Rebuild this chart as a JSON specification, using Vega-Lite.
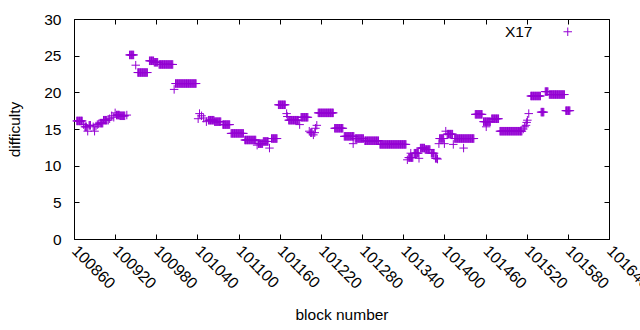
{
"$schema": "https://vega.github.io/schema/vega-lite/v6.json",
"width": 535, "height": 220,
"autosize": {"type": "none"},
"padding": {"left": 74, "top": 19, "right": 31, "bottom": 91},
"background": "white",
"config": {"view": {"stroke": "black", "strokeWidth": 1}, "font": "Liberation Sans",
  "axis": {"grid": false, "domain": false, "tickColor": "black", "tickSize": -5, "labelColor": "black", "labelFontSize": 15.5, "titleFontSize": 15.5, "titleFontWeight": "normal", "titleColor": "black", "labelOverlap": false, "labelFlush": false, "labelBound": false}},
"data": {"values": [
{"b":100864,"d":16.1},{"b":100865,"d":16.1},{"b":100866,"d":16.1},{"b":100867,"d":16.1},{"b":100868,"d":16.1},{"b":100869,"d":16.1},{"b":100870,"d":16.1},{"b":100871,"d":16.1},{"b":100872,"d":16.1},
{"b":100874,"d":15.6},{"b":100876,"d":15.3},{"b":100877,"d":15.3},{"b":100878,"d":15.3},{"b":100880,"d":14.7},{"b":100882,"d":15.5},{"b":100883,"d":15.5},{"b":100884,"d":15.5},{"b":100888,"d":15.3},{"b":100890,"d":14.7},{"b":100892,"d":15.4},{"b":100894,"d":15.6},{"b":100896,"d":15.7},
{"b":100898,"d":15.8},{"b":100899,"d":15.8},{"b":100900,"d":15.8},{"b":100901,"d":15.8},{"b":100902,"d":15.8},{"b":100903,"d":16.2},{"b":100904,"d":16.2},{"b":100905,"d":16.2},{"b":100906,"d":16.2},{"b":100907,"d":16.2},{"b":100908,"d":16.2},
{"b":100910,"d":16.2},{"b":100912,"d":16.4},{"b":100915,"d":16.8},{"b":100918,"d":16.6},{"b":100920,"d":17.2},
{"b":100922,"d":16.9},{"b":100923,"d":16.9},{"b":100924,"d":16.9},{"b":100925,"d":16.9},{"b":100926,"d":16.9},{"b":100927,"d":16.8},{"b":100928,"d":16.8},{"b":100929,"d":16.8},{"b":100930,"d":16.8},{"b":100931,"d":16.8},{"b":100932,"d":16.8},{"b":100933,"d":16.8},{"b":100934,"d":16.8},{"b":100937,"d":16.9},
{"b":100941,"d":25.1},{"b":100942,"d":25.1},{"b":100943,"d":25.1},{"b":100944,"d":25.1},{"b":100945,"d":25.1},{"b":100946,"d":25.1},{"b":100947,"d":25.1},
{"b":100950,"d":23.7},
{"b":100953,"d":22.7},{"b":100954,"d":22.7},{"b":100955,"d":22.7},{"b":100956,"d":22.7},{"b":100957,"d":22.7},{"b":100958,"d":22.7},{"b":100959,"d":22.7},{"b":100960,"d":22.7},{"b":100961,"d":22.7},{"b":100962,"d":22.7},{"b":100963,"d":22.7},{"b":100964,"d":22.7},{"b":100965,"d":22.7},{"b":100966,"d":22.7},{"b":100967,"d":22.7},
{"b":100970,"d":24.3},{"b":100971,"d":24.3},{"b":100972,"d":24.3},{"b":100973,"d":24.3},{"b":100974,"d":24.3},{"b":100975,"d":24.3},{"b":100976,"d":24.3},{"b":100977,"d":24.1},{"b":100978,"d":24.1},{"b":100979,"d":24.1},{"b":100980,"d":24.1},{"b":100981,"d":24.1},{"b":100982,"d":24.1},
{"b":100984,"d":23.8},{"b":100985,"d":23.8},{"b":100986,"d":23.8},{"b":100987,"d":23.8},{"b":100988,"d":23.8},{"b":100989,"d":23.8},{"b":100990,"d":23.8},{"b":100991,"d":23.8},{"b":100992,"d":23.8},{"b":100993,"d":23.8},{"b":100994,"d":23.8},{"b":100995,"d":23.8},{"b":100996,"d":23.8},{"b":100997,"d":23.8},{"b":100998,"d":23.8},{"b":100999,"d":23.8},{"b":101000,"d":23.8},{"b":101001,"d":23.8},{"b":101002,"d":23.8},{"b":101003,"d":23.8},{"b":101004,"d":23.8},
{"b":101006,"d":20.4},
{"b":101008,"d":21.2},{"b":101009,"d":21.2},{"b":101010,"d":21.2},{"b":101011,"d":21.2},{"b":101012,"d":21.2},{"b":101013,"d":21.2},{"b":101014,"d":21.2},{"b":101015,"d":21.2},{"b":101016,"d":21.2},{"b":101017,"d":21.2},{"b":101018,"d":21.2},{"b":101019,"d":21.2},{"b":101020,"d":21.2},{"b":101021,"d":21.2},{"b":101022,"d":21.2},{"b":101023,"d":21.2},{"b":101024,"d":21.2},{"b":101025,"d":21.2},{"b":101026,"d":21.2},{"b":101027,"d":21.2},{"b":101028,"d":21.2},{"b":101029,"d":21.2},{"b":101030,"d":21.2},{"b":101031,"d":21.2},{"b":101032,"d":21.2},{"b":101033,"d":21.2},{"b":101034,"d":21.2},{"b":101035,"d":21.2},{"b":101036,"d":21.2},{"b":101037,"d":21.2},{"b":101038,"d":21.2},
{"b":101041,"d":16.4},{"b":101043,"d":17.1},{"b":101046,"d":16.8},{"b":101049,"d":16.5},{"b":101053,"d":16.0},
{"b":101056,"d":16.2},{"b":101057,"d":16.2},{"b":101058,"d":16.2},{"b":101059,"d":16.2},{"b":101060,"d":16.2},{"b":101061,"d":16.2},{"b":101062,"d":16.2},{"b":101063,"d":16.2},{"b":101064,"d":16.2},{"b":101065,"d":16.0},{"b":101066,"d":16.0},{"b":101067,"d":16.0},{"b":101068,"d":16.0},{"b":101069,"d":16.0},{"b":101070,"d":16.0},{"b":101071,"d":16.0},{"b":101072,"d":16.0},{"b":101073,"d":16.0},{"b":101074,"d":16.0},
{"b":101077,"d":15.6},{"b":101078,"d":15.6},{"b":101079,"d":15.6},{"b":101080,"d":15.6},{"b":101081,"d":15.6},{"b":101082,"d":15.6},{"b":101083,"d":15.6},{"b":101084,"d":15.6},{"b":101085,"d":15.6},{"b":101086,"d":15.6},{"b":101087,"d":15.6},
{"b":101089,"d":14.4},{"b":101090,"d":14.4},{"b":101091,"d":14.4},{"b":101092,"d":14.4},{"b":101093,"d":14.4},{"b":101094,"d":14.4},{"b":101095,"d":14.4},{"b":101096,"d":14.4},{"b":101097,"d":14.4},{"b":101098,"d":14.4},{"b":101099,"d":14.4},{"b":101100,"d":14.4},{"b":101101,"d":14.4},{"b":101102,"d":14.4},{"b":101103,"d":14.4},{"b":101104,"d":14.4},{"b":101105,"d":14.4},{"b":101106,"d":14.4},{"b":101107,"d":14.4},
{"b":101109,"d":13.5},{"b":101110,"d":13.5},{"b":101111,"d":13.5},{"b":101112,"d":13.5},{"b":101113,"d":13.5},{"b":101114,"d":13.5},{"b":101115,"d":13.5},{"b":101116,"d":13.5},{"b":101117,"d":13.5},{"b":101118,"d":13.5},{"b":101119,"d":13.5},{"b":101120,"d":13.5},{"b":101121,"d":13.5},{"b":101122,"d":13.5},{"b":101123,"d":13.5},{"b":101124,"d":13.5},{"b":101125,"d":13.5},
{"b":101127,"d":12.8},
{"b":101129,"d":13.0},{"b":101130,"d":13.0},{"b":101131,"d":13.0},{"b":101132,"d":13.0},{"b":101133,"d":13.0},{"b":101134,"d":13.0},{"b":101135,"d":13.0},{"b":101136,"d":13.3},{"b":101137,"d":13.3},{"b":101138,"d":13.3},{"b":101139,"d":13.3},{"b":101140,"d":13.3},{"b":101141,"d":13.3},{"b":101142,"d":13.3},{"b":101143,"d":13.3},
{"b":101145,"d":12.4},
{"b":101148,"d":13.7},{"b":101149,"d":13.7},{"b":101150,"d":13.7},{"b":101151,"d":13.7},{"b":101152,"d":13.7},{"b":101153,"d":13.7},{"b":101154,"d":13.7},{"b":101155,"d":13.7},{"b":101156,"d":13.7},
{"b":101158,"d":18.3},{"b":101159,"d":18.3},{"b":101160,"d":18.3},{"b":101161,"d":18.3},{"b":101162,"d":18.3},{"b":101163,"d":18.3},{"b":101164,"d":18.3},{"b":101165,"d":18.3},{"b":101166,"d":18.3},{"b":101167,"d":18.3},{"b":101168,"d":18.3},
{"b":101170,"d":17.1},{"b":101171,"d":16.7},
{"b":101173,"d":16.2},{"b":101174,"d":16.2},{"b":101175,"d":16.2},{"b":101176,"d":16.2},{"b":101177,"d":16.2},{"b":101178,"d":16.2},{"b":101179,"d":16.2},{"b":101180,"d":16.2},{"b":101181,"d":16.2},{"b":101182,"d":16.2},{"b":101183,"d":16.2},{"b":101184,"d":16.2},{"b":101185,"d":16.2},{"b":101186,"d":16.2},{"b":101187,"d":16.2},
{"b":101189,"d":15.6},
{"b":101191,"d":16.6},{"b":101192,"d":16.6},{"b":101193,"d":16.6},{"b":101194,"d":16.6},{"b":101195,"d":16.6},{"b":101196,"d":16.6},{"b":101197,"d":16.6},{"b":101198,"d":16.6},{"b":101199,"d":16.6},{"b":101200,"d":16.6},{"b":101201,"d":16.6},
{"b":101203,"d":14.7},{"b":101205,"d":14.5},{"b":101206,"d":14.5},{"b":101207,"d":14.5},{"b":101209,"d":14.2},{"b":101211,"d":14.5},{"b":101212,"d":15.1},{"b":101214,"d":15.5},
{"b":101216,"d":17.2},{"b":101217,"d":17.2},{"b":101218,"d":17.2},{"b":101219,"d":17.2},{"b":101220,"d":17.2},{"b":101221,"d":17.2},{"b":101222,"d":17.2},{"b":101223,"d":17.2},{"b":101224,"d":17.2},{"b":101225,"d":17.2},{"b":101226,"d":17.2},{"b":101227,"d":17.2},{"b":101228,"d":17.2},{"b":101229,"d":17.2},{"b":101230,"d":17.2},{"b":101231,"d":17.2},{"b":101232,"d":17.2},{"b":101233,"d":17.2},{"b":101234,"d":17.2},{"b":101235,"d":17.2},{"b":101236,"d":17.2},{"b":101237,"d":17.2},{"b":101238,"d":17.2},
{"b":101240,"d":15.1},{"b":101241,"d":15.1},{"b":101242,"d":15.1},{"b":101243,"d":15.1},{"b":101244,"d":15.1},{"b":101245,"d":15.1},{"b":101246,"d":15.1},{"b":101247,"d":15.1},{"b":101248,"d":15.1},{"b":101249,"d":15.1},{"b":101250,"d":15.1},{"b":101251,"d":15.1},{"b":101252,"d":15.1},
{"b":101254,"d":14.0},{"b":101255,"d":14.0},{"b":101256,"d":14.0},{"b":101257,"d":14.0},{"b":101258,"d":14.0},{"b":101259,"d":14.0},{"b":101260,"d":14.0},{"b":101261,"d":14.0},{"b":101262,"d":14.0},{"b":101263,"d":14.0},{"b":101264,"d":14.0},{"b":101265,"d":14.0},{"b":101266,"d":14.0},{"b":101267,"d":14.0},{"b":101268,"d":14.0},{"b":101267,"d":13.0},
{"b":101270,"d":13.7},{"b":101271,"d":13.7},{"b":101272,"d":13.7},{"b":101273,"d":13.7},{"b":101274,"d":13.7},{"b":101275,"d":13.7},{"b":101276,"d":13.7},{"b":101277,"d":13.7},{"b":101278,"d":13.7},{"b":101279,"d":13.7},{"b":101280,"d":13.7},{"b":101281,"d":13.7},{"b":101282,"d":13.7},
{"b":101284,"d":13.4},{"b":101285,"d":13.4},{"b":101286,"d":13.4},{"b":101287,"d":13.4},{"b":101288,"d":13.4},{"b":101289,"d":13.4},{"b":101290,"d":13.4},{"b":101291,"d":13.4},{"b":101292,"d":13.4},{"b":101293,"d":13.4},{"b":101294,"d":13.4},{"b":101295,"d":13.4},{"b":101296,"d":13.4},{"b":101297,"d":13.4},{"b":101298,"d":13.4},{"b":101299,"d":13.4},{"b":101300,"d":13.4},{"b":101301,"d":13.4},{"b":101302,"d":13.4},{"b":101303,"d":13.4},{"b":101304,"d":13.4},
{"b":101306,"d":12.9},{"b":101307,"d":12.9},{"b":101308,"d":12.9},{"b":101309,"d":12.9},{"b":101310,"d":12.9},{"b":101311,"d":12.9},{"b":101312,"d":12.9},{"b":101313,"d":12.9},{"b":101314,"d":12.9},{"b":101315,"d":12.9},{"b":101316,"d":12.9},{"b":101317,"d":12.9},{"b":101318,"d":12.9},{"b":101319,"d":12.9},{"b":101320,"d":12.9},{"b":101321,"d":12.9},{"b":101322,"d":12.9},{"b":101323,"d":12.9},{"b":101324,"d":12.9},{"b":101325,"d":12.9},{"b":101326,"d":12.9},{"b":101327,"d":12.9},{"b":101328,"d":12.9},{"b":101329,"d":12.9},{"b":101330,"d":12.9},{"b":101331,"d":12.9},{"b":101332,"d":12.9},{"b":101333,"d":12.9},{"b":101334,"d":12.9},{"b":101335,"d":12.9},{"b":101336,"d":12.9},{"b":101337,"d":12.9},{"b":101338,"d":12.9},{"b":101339,"d":12.9},{"b":101340,"d":12.9},{"b":101341,"d":12.9},{"b":101342,"d":12.9},{"b":101343,"d":12.9},{"b":101344,"d":12.9},
{"b":101346,"d":10.8},
{"b":101348,"d":11.1},{"b":101349,"d":11.1},{"b":101350,"d":11.1},{"b":101351,"d":11.1},{"b":101352,"d":11.1},{"b":101353,"d":11.1},{"b":101354,"d":11.1},{"b":101351,"d":11.7},
{"b":101356,"d":11.7},{"b":101357,"d":11.7},{"b":101358,"d":11.7},{"b":101359,"d":11.7},{"b":101360,"d":11.7},{"b":101361,"d":11.7},{"b":101362,"d":11.7},
{"b":101363,"d":11.0},
{"b":101365,"d":12.4},{"b":101366,"d":12.4},{"b":101367,"d":12.4},{"b":101368,"d":12.4},{"b":101369,"d":12.4},{"b":101370,"d":12.4},{"b":101371,"d":12.4},{"b":101372,"d":12.2},{"b":101373,"d":12.2},{"b":101374,"d":12.2},{"b":101375,"d":12.2},{"b":101376,"d":12.2},{"b":101377,"d":12.2},{"b":101378,"d":12.2},{"b":101379,"d":12.2},
{"b":101381,"d":11.7},{"b":101382,"d":11.7},{"b":101383,"d":11.7},{"b":101384,"d":11.7},{"b":101385,"d":11.7},
{"b":101387,"d":11.0},{"b":101388,"d":11.0},{"b":101389,"d":11.0},{"b":101390,"d":10.9},
{"b":101392,"d":13.0},{"b":101393,"d":13.7},{"b":101394,"d":13.7},{"b":101395,"d":13.7},{"b":101396,"d":13.7},{"b":101397,"d":13.7},{"b":101398,"d":13.7},{"b":101399,"d":13.7},{"b":101400,"d":13.0},
{"b":101402,"d":14.7},{"b":101404,"d":14.3},{"b":101405,"d":14.3},{"b":101406,"d":14.3},{"b":101407,"d":14.3},{"b":101408,"d":14.3},{"b":101409,"d":14.3},{"b":101410,"d":14.3},{"b":101411,"d":14.3},{"b":101412,"d":14.3},
{"b":101413,"d":12.9},
{"b":101415,"d":13.7},{"b":101416,"d":13.7},{"b":101417,"d":13.7},{"b":101418,"d":13.7},{"b":101419,"d":13.7},{"b":101420,"d":13.7},{"b":101421,"d":13.7},{"b":101422,"d":13.7},{"b":101423,"d":13.7},{"b":101424,"d":13.7},{"b":101425,"d":13.7},{"b":101426,"d":13.7},{"b":101427,"d":13.7},{"b":101428,"d":13.7},{"b":101429,"d":13.7},{"b":101430,"d":13.7},{"b":101431,"d":13.7},{"b":101432,"d":13.7},{"b":101433,"d":13.7},{"b":101434,"d":13.7},{"b":101435,"d":13.7},{"b":101436,"d":13.7},{"b":101437,"d":13.7},{"b":101438,"d":13.7},{"b":101439,"d":13.7},{"b":101440,"d":13.7},{"b":101441,"d":13.7},{"b":101442,"d":13.7},{"b":101443,"d":13.7},{"b":101428,"d":12.4},
{"b":101445,"d":17.0},{"b":101446,"d":17.0},{"b":101447,"d":17.0},{"b":101448,"d":17.0},{"b":101449,"d":17.0},{"b":101450,"d":17.0},{"b":101451,"d":17.0},{"b":101452,"d":17.0},{"b":101453,"d":17.0},{"b":101454,"d":17.0},{"b":101455,"d":17.0},
{"b":101457,"d":16.0},{"b":101458,"d":16.0},{"b":101459,"d":16.0},{"b":101460,"d":16.0},{"b":101461,"d":16.0},{"b":101462,"d":16.0},{"b":101463,"d":16.0},{"b":101464,"d":16.0},{"b":101465,"d":16.0},{"b":101466,"d":16.0},{"b":101467,"d":16.0},{"b":101461,"d":15.3},
{"b":101469,"d":16.4},{"b":101470,"d":16.4},{"b":101471,"d":16.4},{"b":101472,"d":16.4},{"b":101473,"d":16.4},{"b":101474,"d":16.4},{"b":101475,"d":16.4},{"b":101476,"d":16.4},{"b":101477,"d":16.4},{"b":101478,"d":16.4},{"b":101479,"d":16.4},
{"b":101481,"d":14.7},{"b":101482,"d":14.7},{"b":101483,"d":14.7},{"b":101484,"d":14.7},{"b":101485,"d":14.7},{"b":101486,"d":14.7},{"b":101487,"d":14.7},{"b":101488,"d":14.7},{"b":101489,"d":14.7},{"b":101490,"d":14.7},{"b":101491,"d":14.7},{"b":101492,"d":14.7},{"b":101493,"d":14.7},{"b":101494,"d":14.7},{"b":101495,"d":14.7},{"b":101496,"d":14.7},{"b":101497,"d":14.7},{"b":101498,"d":14.7},{"b":101499,"d":14.7},{"b":101500,"d":14.7},{"b":101501,"d":14.7},{"b":101502,"d":14.7},{"b":101503,"d":14.7},{"b":101504,"d":14.7},{"b":101505,"d":14.7},{"b":101506,"d":14.7},{"b":101507,"d":14.7},{"b":101508,"d":14.7},{"b":101509,"d":14.7},{"b":101510,"d":14.7},{"b":101511,"d":14.7},{"b":101512,"d":14.7},{"b":101513,"d":14.7},
{"b":101515,"d":15.0},{"b":101517,"d":15.3},{"b":101519,"d":15.5},{"b":101520,"d":15.9},{"b":101521,"d":16.2},{"b":101523,"d":17.1},
{"b":101526,"d":19.5},{"b":101527,"d":19.5},{"b":101528,"d":19.5},{"b":101529,"d":19.5},{"b":101530,"d":19.5},{"b":101531,"d":19.5},{"b":101532,"d":19.5},{"b":101533,"d":19.5},{"b":101534,"d":19.5},{"b":101535,"d":19.5},{"b":101536,"d":19.5},{"b":101537,"d":19.5},{"b":101538,"d":19.5},{"b":101539,"d":19.5},{"b":101540,"d":19.5},
{"b":101541,"d":17.3},{"b":101542,"d":17.3},{"b":101543,"d":17.3},{"b":101544,"d":17.3},{"b":101545,"d":17.3},
{"b":101547,"d":20.1},{"b":101548,"d":20.1},{"b":101549,"d":20.1},{"b":101550,"d":20.1},{"b":101551,"d":20.1},
{"b":101553,"d":19.7},{"b":101554,"d":19.7},{"b":101555,"d":19.7},{"b":101556,"d":19.7},{"b":101557,"d":19.7},{"b":101558,"d":19.7},{"b":101559,"d":19.7},{"b":101560,"d":19.7},{"b":101561,"d":19.7},{"b":101562,"d":19.7},{"b":101563,"d":19.7},{"b":101564,"d":19.7},{"b":101565,"d":19.7},{"b":101566,"d":19.7},{"b":101567,"d":19.7},{"b":101568,"d":19.7},{"b":101569,"d":19.7},{"b":101570,"d":19.7},{"b":101571,"d":19.7},{"b":101572,"d":19.7},{"b":101573,"d":19.7},{"b":101574,"d":19.7},{"b":101575,"d":19.7},
{"b":101577,"d":17.5},{"b":101578,"d":17.5},{"b":101579,"d":17.5},{"b":101580,"d":17.5},{"b":101581,"d":17.5},{"b":101582,"d":17.5},{"b":101583,"d":17.5}
]},
"layer": [
{"mark": {"type": "point", "shape": "M-1,0H1M0,-1V1", "filled": false, "strokeWidth": 1, "size": 72, "opacity": 1},
 "encoding": {
  "x": {"field": "b", "type": "quantitative", "scale": {"domain": [100860, 101640], "nice": false, "zero": false},
        "axis": {"orient": "bottom", "values": [100860,100920,100980,101040,101100,101160,101220,101280,101340,101400,101460,101520,101580,101640], "format": "d", "labelAngle": 45, "labelAlign": "left", "labelBaseline": "middle", "labelPadding": 14, "labelFontSize": 16, "title": "block number", "titlePadding": 16}},
  "y": {"field": "d", "type": "quantitative", "scale": {"domain": [0, 30], "nice": false, "zero": true},
        "axis": {"orient": "left", "values": [0,5,10,15,20,25,30], "labelPadding": 18, "title": "difficulty", "titlePadding": 21}},
  "color": {"datum": "X17", "type": "nominal", "scale": {"range": ["#9400D3"]},
        "legend": {"orient": "none", "legendX": 486, "legendY": 5, "title": null, "padding": 0, "symbolType": "M-1,0H1M0,-1V1", "symbolSize": 72, "symbolStrokeWidth": 1, "symbolOpacity": 1, "labelAlign": "right", "labelOffset": -43, "labelFontSize": 15.5, "labelColor": "black"}}
 }},
{"mark": {"type": "point", "opacity": 0},
 "encoding": {
  "x": {"field": "b", "type": "quantitative", "scale": {"domain": [100860, 101640], "nice": false, "zero": false},
        "axis": {"orient": "top", "values": [100860,100920,100980,101040,101100,101160,101220,101280,101340,101400,101460,101520,101580,101640], "labels": false, "title": null}},
  "y": {"field": "d", "type": "quantitative", "scale": {"domain": [0, 30], "nice": false, "zero": true},
        "axis": {"orient": "right", "values": [0,5,10,15,20,25,30], "labels": false, "title": null}}
 }}
],
"resolve": {"scale": {"x": "independent", "y": "independent"}, "axis": {"x": "independent", "y": "independent"}}
}
